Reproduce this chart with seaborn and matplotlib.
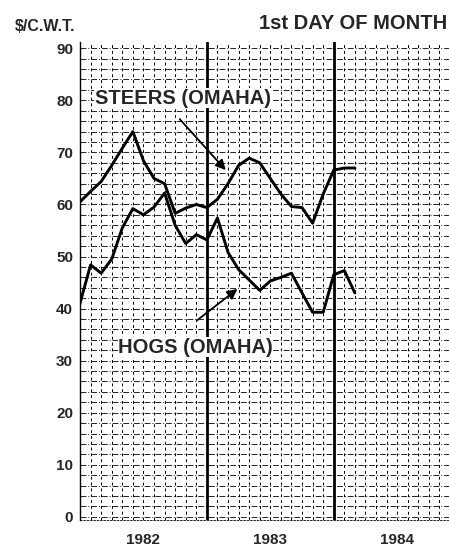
import numpy as np
import pandas as pd
import seaborn as sns
import matplotlib.pyplot as plt
from matplotlib.ticker import MultipleLocator

# monthly values, 1st day of month, month 0 = Jan 1982
months = list(range(27))
steers = [60.5, 62.5, 64.4, 67.5, 70.8, 74.0, 68.4, 65.0, 64.0, 58.3, 59.3, 60.0,
          59.4, 61.0, 64.0, 67.5, 68.9, 68.0, 65.0, 62.0, 59.6, 59.4, 56.4, 62.0,
          66.6, 67.0, 67.0]
hogs = [41.0, 48.4, 46.8, 49.5, 55.5, 59.2, 58.0, 59.5, 62.2, 56.0, 52.5, 54.2,
        53.2, 57.4, 50.8, 47.5, 45.5, 43.5, 45.3, 46.0, 46.8, 43.0, 39.3, 39.3,
        46.5, 47.3, 43.0]
years = ['1982', '1983', '1984']
year_centers = [6, 18, 30]
year_breaks = [12, 24]

df = pd.DataFrame({'month': months * 2,
                   'price': steers + hogs,
                   'series': ['STEERS (OMAHA)'] * len(months) + ['HOGS (OMAHA)'] * len(months)})

sns.set_theme(style='white')
plt.rcParams['font.family'] = ['Liberation Sans', 'DejaVu Sans']
plt.rcParams['font.weight'] = 'bold'

fig = plt.figure(figsize=(4.49, 5.48), dpi=100)
ax = fig.add_axes([80/449, 28/548, 369/449, 478/548])

sns.lineplot(data=df, x='month', y='price', hue='series',
             palette=['black', 'black'], linewidth=2.1, legend=False, ax=ax)

ax.set_xlim(0, 34.9)
ax.set_ylim(-0.6, 91.2)

# chart paper grid
ax.xaxis.set_minor_locator(MultipleLocator(1))
ax.yaxis.set_minor_locator(MultipleLocator(2))
ax.set_xticks(year_centers)
ax.set_xticklabels(years)
ax.set_yticks(range(0, 91, 10))
ax.grid(which='both', axis='y', color='#222222', linewidth=0.7,
        linestyle=(0, (6, 2, 1, 2)))
ax.grid(which='both', axis='x', color='black', linewidth=0.7,
        linestyle=(0, (3, 3)))
for xb in year_breaks:
    ax.axvline(xb, color='black', linewidth=2.0)

for s in ['top', 'right']:
    ax.spines[s].set_visible(False)
ax.spines['left'].set_color('black')
ax.spines['left'].set_linewidth(1.0)
ax.spines['bottom'].set_color('black')
ax.spines['bottom'].set_linewidth(0.6)
ax.spines['bottom'].set_linestyle((0, (2, 2)))

ax.tick_params(axis='x', which='both', length=0, pad=9, labelsize=11)
ax.tick_params(axis='y', which='major', length=4, width=1, color='black',
               direction='out', pad=1, labelsize=11)
ax.tick_params(axis='y', which='minor', length=0)
for lab in ax.get_xticklabels() + ax.get_yticklabels():
    lab.set_fontweight('bold')
ax.set_xlabel('')
ax.set_ylabel('')

ax.annotate('', xy=(13.96, 66.2), xytext=(9.25, 76.8),
            arrowprops=dict(arrowstyle='-|>', color='black', lw=1.3,
                            mutation_scale=15))
ax.annotate('', xy=(15.1, 44.1), xytext=(10.85, 37.4),
            arrowprops=dict(arrowstyle='-|>', color='black', lw=1.3,
                            mutation_scale=15))
ax.text(1.4, 80.4, 'STEERS (OMAHA)', fontsize=14.5, fontweight='bold', va='center',
        ha='left', bbox=dict(facecolor='white', edgecolor='none', pad=0.3))
ax.text(3.6, 32.6, 'HOGS (OMAHA)', fontsize=14.5, fontweight='bold', va='center',
        ha='left', bbox=dict(facecolor='white', edgecolor='none', pad=0.3))

fig.text(15/449, 1 - 31/548, '$/C.W.T.', fontsize=11.5, fontweight='bold',
         ha='left', va='baseline')
fig.text(447/449, 1 - 29/548, '1st DAY OF MONTH', fontsize=14.5, fontweight='bold',
         ha='right', va='baseline')

fig.savefig('out.png', dpi=100)
